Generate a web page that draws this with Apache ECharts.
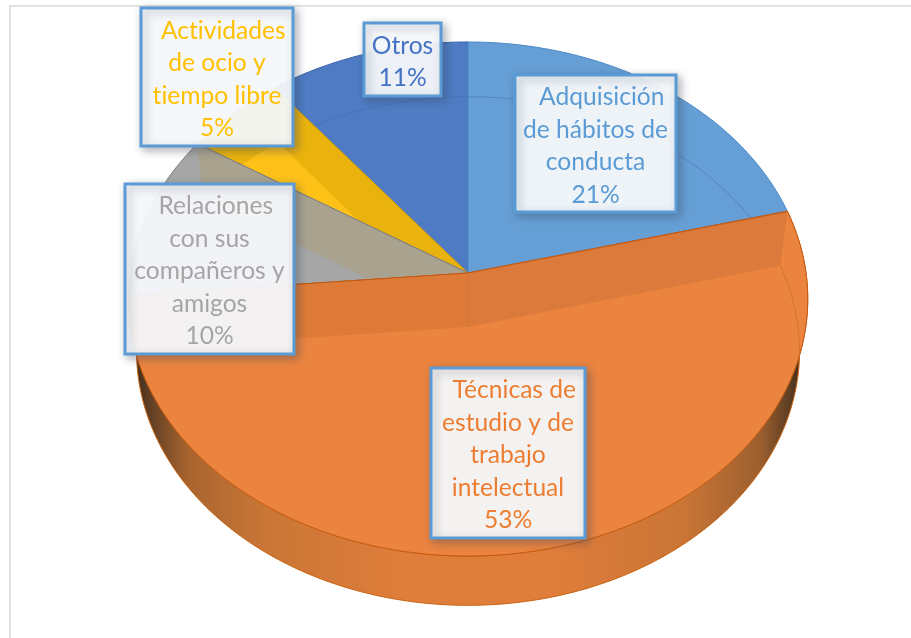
<!DOCTYPE html>
<html><head><meta charset="utf-8">
<style>html,body{margin:0;padding:0;background:#fff}#c{width:911px;height:638px}</style>
<script src="https://cdn.jsdelivr.net/npm/echarts@6/dist/echarts.min.js"></script>
</head><body><div id="c"></div>
<script>
// ---- data ----
const labelLines = [
  '  Adquisición\nde hábitos de\nconducta',
  '  Técnicas de\nestudio y de\ntrabajo\nintelectual',
  '  Relaciones\ncon sus\ncompañeros y\namigos',
  '  Actividades\nde ocio y\ntiempo libre',
  'Otros'
];
const values = [21, 52.6, 10.4, 5.4, 10.6];

// ---- style / layout ----
const topColors = ['#659FD5', '#EB843F', '#A6A6A6', '#E9B20D', '#4E7BC3'];
const strokeColors = ['#4A88C6', '#C55A11', '#808080', '#C99A10', '#3A63AE'];
const textColors = ['#5B9BD5', '#ED7D31', '#A5A5A5', '#FFC000', '#4472C4'];
const drawOrder = [4, 0, 3, 2, 1];
const boxes = [[515, 75, 161, 137], [431, 368, 154, 170], [125, 184, 169, 170], [141, 8, 152, 138], [364, 23, 77, 73]];
const topPlane = {cx: 468, cy: 273, R: 338, S: 254.4, k: 0.1012};
const botPlane = {cx: 468, cy: 327, R: 330, S: 252, k: 0.0945};

// the reference face has no ligatures ("ti"), so draw text without them
['fillText', 'measureText'].forEach(function (m) {
  const orig = CanvasRenderingContext2D.prototype[m];
  CanvasRenderingContext2D.prototype[m] = function () {
    this.textRendering = 'optimizeSpeed';
    return orig.apply(this, arguments);
  };
});

const total = values.reduce((a, b) => a + b, 0);
const starts = [];
values.reduce((acc, v, i) => { starts[i] = acc; return acc + v; }, 0);
const ang = p => p / total * Math.PI * 2;
function pt(pl, t) {
  const u = Math.sin(t), v = Math.cos(t), w = 1 + pl.k * v;
  return [pl.cx + pl.R * u / w, pl.cy - pl.S * v / w];
}
function arc(pl, a, b) {
  const pts = [], n = Math.max(2, Math.ceil(Math.abs(b - a) / 0.015));
  for (let i = 0; i <= n; i++) pts.push(pt(pl, a + (b - a) * i / n));
  return pts;
}
const apex = pl => [pl.cx, pl.cy];
const poly = (points, style, z2) => ({type: 'polygon', shape: {points}, style, z2, silent: true});
const line = (points, stroke, lineWidth, z2) => ({type: 'polyline', shape: {points}, style: {stroke, lineWidth, fill: null}, z2, silent: true});

function renderSlice(params, api) {
  const i = params.dataIndex;
  const a = ang(api.value(0)), b = a + ang(api.value(1));
  const base = drawOrder.indexOf(i) * 10 + 10;
  const kids = [];
  // top face
  kids.push(poly([apex(topPlane)].concat(arc(topPlane, a, b)),
    {fill: topColors[i], stroke: strokeColors[i], lineWidth: 1}, base));
  if (i === 0 || i === 4) {
    kids.push(line(arc(botPlane, a, b), 'rgba(58,105,175,0.45)', 1, base + 1));
  }
  if (i === 3) { // lower face seen through the translucent top
    kids.push(poly([apex(botPlane)].concat(arc(botPlane, a, b)), {fill: '#FEC118'}, base + 1));
  }
  if (i === 2) { // wall at the far edge of this slice
    kids.push(poly([apex(topPlane), pt(topPlane, b), pt(botPlane, b), apex(botPlane)], {fill: '#A8A28F'}, base + 1));
    kids.push(line([apex(topPlane), pt(topPlane, b)], '#808080', 1, base + 2));
  }
  if (i === 1) { // side wall, and both inner walls
    kids.push(poly(arc(topPlane, a, b).concat(arc(botPlane, b, a)), {
      fill: {type: 'linear', x: 0, y: 0, x2: 1, y2: 0, colorStops: [
        {offset: 0, color: '#2E2118'}, {offset: 0.03, color: '#5E3D22'}, {offset: 0.09, color: '#A9652F'},
        {offset: 0.2, color: '#C97636'}, {offset: 0.4, color: '#DF7D3B'}, {offset: 0.62, color: '#E07D3B'},
        {offset: 0.82, color: '#C97536'}, {offset: 0.93, color: '#9C5F2E'}, {offset: 0.975, color: '#5A3C22'},
        {offset: 1, color: '#2E2118'}]},
      stroke: '#C9630F', lineWidth: 1}, 1));
    kids.push(poly([apex(topPlane), pt(topPlane, a), pt(botPlane, a), apex(botPlane)], {fill: '#DC7A3B'}, base + 1));
    kids.push(poly([apex(topPlane), pt(topPlane, b), pt(botPlane, b), apex(botPlane)], {fill: '#DE7A38'}, base + 1));
    kids.push(line(arc(botPlane, a, a + 0.45), 'rgba(205,105,45,0.7)', 1, base + 1));
    kids.push(line([apex(topPlane), pt(topPlane, a)], '#C55A11', 1.2, base + 2));
    kids.push(line([apex(topPlane), pt(topPlane, b)], '#C55A11', 1, base + 2));
    kids.push(line([apex(topPlane), apex(botPlane)], 'rgba(205,105,45,0.25)', 1, base + 2));
  }
  return {type: 'group', children: kids};
}

function renderLabel(params, api) {
  const i = params.dataIndex;
  const [x, y, w, h] = boxes[i];
  const pct = Math.round(api.value(1) / total * 100) + '%';
  return {type: 'group', children: [
    {type: 'rect', shape: {x, y, width: w, height: h}, silent: true, z2: 200,
     style: {fill: 'rgba(250,252,254,0.93)', stroke: '#5B9BD5', lineWidth: 3,
             shadowBlur: 9, shadowOffsetX: 3, shadowOffsetY: 3, shadowColor: 'rgba(60,70,90,0.4)'}},
    {type: 'text', silent: true, z2: 201,
     style: {x: x + w / 2, y: y + h / 2 + 2.5, text: labelLines[i] + '\n' + pct, fill: textColors[i],
             font: '24.6px Lato, Carlito, sans-serif', align: 'center', verticalAlign: 'middle', lineHeight: 32.5}}
  ]};
}

const sliceData = values.map((v, i) => [starts[i], v]);
const chart = echarts.init(document.getElementById('c'), null, {renderer: 'canvas'});
chart.setOption({
  animation: false,
  backgroundColor: '#fff',
  graphic: [
    {type: 'line', shape: {x1: 9, y1: 6, x2: 911, y2: 6}, style: {stroke: '#D9D9D9', lineWidth: 1.5}, silent: true},
    {type: 'line', shape: {x1: 10, y1: 6, x2: 10, y2: 638}, style: {stroke: '#D9D9D9', lineWidth: 1.5}, silent: true}
  ],
  series: [
    {type: 'custom', coordinateSystem: 'none', data: sliceData, renderItem: renderSlice, silent: true, z: 2},
    {type: 'custom', coordinateSystem: 'none', data: sliceData, renderItem: renderLabel, silent: true, z: 3}
  ]
});
</script></body></html>
